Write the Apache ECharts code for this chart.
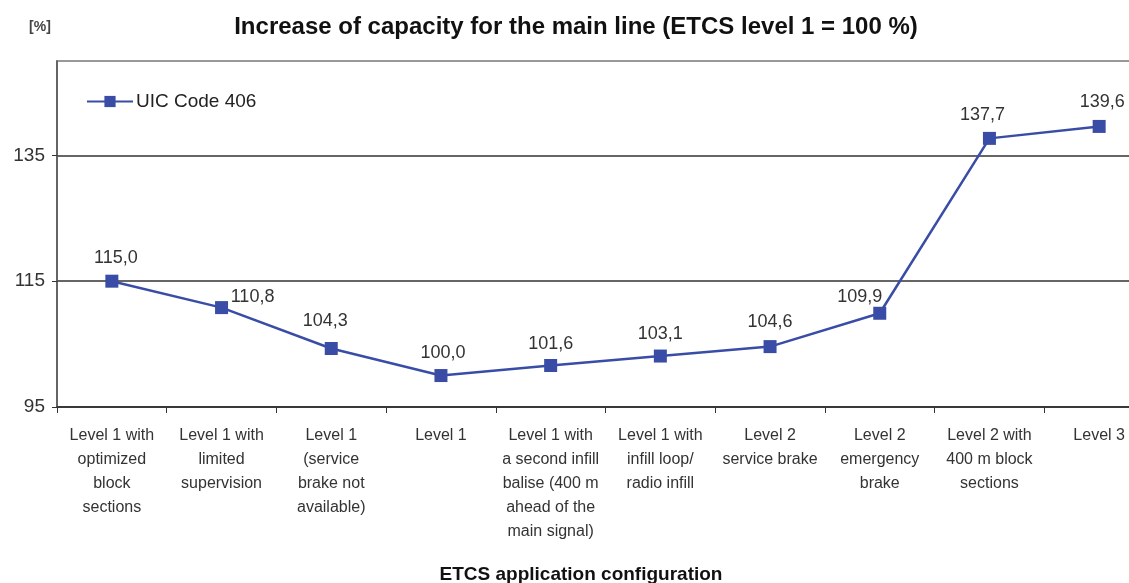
<!DOCTYPE html>
<html>
<head>
<meta charset="utf-8">
<script src="https://cdn.jsdelivr.net/npm/echarts@6/dist/echarts.min.js"></script>
<style>
html, body { margin: 0; padding: 0; background: #fff; }
#chart { width: 1129px; height: 583px; }
</style>
</head>
<body>
<div id="chart"></div>
<script>
const configurations = [
	"Level 1 with\noptimized\nblock\nsections",
	"Level 1 with\nlimited\nsupervision",
	"Level 1\n(service\nbrake not\navailable)",
	"Level 1",
	"Level 1 with\na second infill\nbalise (400 m\nahead of the\nmain signal)",
	"Level 1 with\ninfill loop/\nradio infill",
	"Level 2\nservice brake",
	"Level 2\nemergency\nbrake",
	"Level 2 with\n400 m block\nsections",
	"Level 3"
];
const capacity = [115.0, 110.8, 104.3, 100.0, 101.6, 103.1, 104.6, 109.9, 137.7, 139.6];
const yTicks = [95, 115, 135];

// label nudges, like the hand-placed labels in the source chart
const labelNudge = [[4, -1], [31, 12], [-6, -5], [2, 0], [0, 1], [0, 0], [0, -2], [-20, 6], [-7, -1], [3, -2]];

const colors = {
	ink: "#222222",
	axis: "#333333",
	frame: "#999999",
	blue: "#3a4da6"
};
const font = "'Liberation Sans', Arial, sans-serif";
const comma = v => v.toFixed(1).replace(".", ",");

const chart = echarts.init(document.getElementById("chart"), null, { renderer: "canvas" });

chart.setOption({
	animation: false,
	textStyle: { fontFamily: font, color: colors.ink },
	grid: {
		left: 57,
		top: 61,
		width: 1097,
		height: 346,
		outerBoundsMode: "none",
		containLabel: false,
		show: true,
		borderColor: colors.frame,
		borderWidth: 2,
		backgroundColor: "transparent"
	},
	legend: {
		left: 86,
		top: 92,
		padding: 0,
		itemWidth: 46,
		itemHeight: 14,
		itemGap: 10,
		textStyle: { fontFamily: font, fontSize: 19, color: colors.ink, padding: [0, 0, 0, -2] },
		data: ["UIC Code 406"]
	},
	graphic: [
		{ type: "text", x: 576, y: 27, style: { text: "Increase of capacity for the main line (ETCS level 1 = 100 %)", font: "bold 24px " + font, fill: "#111", align: "center", verticalAlign: "middle" } },
		{ type: "text", x: 40, y: 27, style: { text: "[%]", font: "bold 14px " + font, fill: "#444", align: "center", verticalAlign: "middle" } },
		{ type: "text", x: 581, y: 575, style: { text: "ETCS application configuration", font: "bold 19px " + font, fill: "#111", align: "center", verticalAlign: "middle" } }
	],
	xAxis: {
		type: "category",
		data: configurations,
		boundaryGap: true,
		axisLine: { lineStyle: { color: colors.axis, width: 1.5 } },
		axisTick: { show: true, length: 6, lineStyle: { color: colors.axis } },
		axisLabel: { interval: 0, margin: 17, fontSize: 16, lineHeight: 24, color: "#333", fontFamily: font },
		splitLine: { show: false }
	},
	yAxis: {
		type: "value",
		min: yTicks[0],
		max: 150,
		interval: yTicks[1] - yTicks[0],
		axisLine: { show: true, lineStyle: { color: "#555", width: 1.5 } },
		axisTick: { show: true, length: 5, lineStyle: { color: colors.axis } },
		axisLabel: {
			margin: 12,
			fontSize: 19,
			color: "#333",
			fontFamily: font,
			showMaxLabel: false,
			formatter: v => (yTicks.includes(v) ? String(v) : "")
		},
		splitLine: { show: true, showMaxLine: false, lineStyle: { color: [colors.axis, colors.axis, colors.axis, colors.frame], width: 1.5 } }
	},
	series: [
		{
			name: "UIC Code 406",
			type: "line",
			data: capacity.map((v, i) => ({
				value: v,
				label: { offset: labelNudge[i] }
			})),
			symbol: "rect",
			symbolSize: 13,
			lineStyle: { color: colors.blue, width: 2.5 },
			itemStyle: { color: colors.blue },
			label: {
				show: true,
				position: "top",
				distance: 7,
				fontSize: 18,
				color: "#333",
				fontFamily: font,
				formatter: p => comma(p.value)
			}
		}
	]
});
</script>
</body>
</html>
